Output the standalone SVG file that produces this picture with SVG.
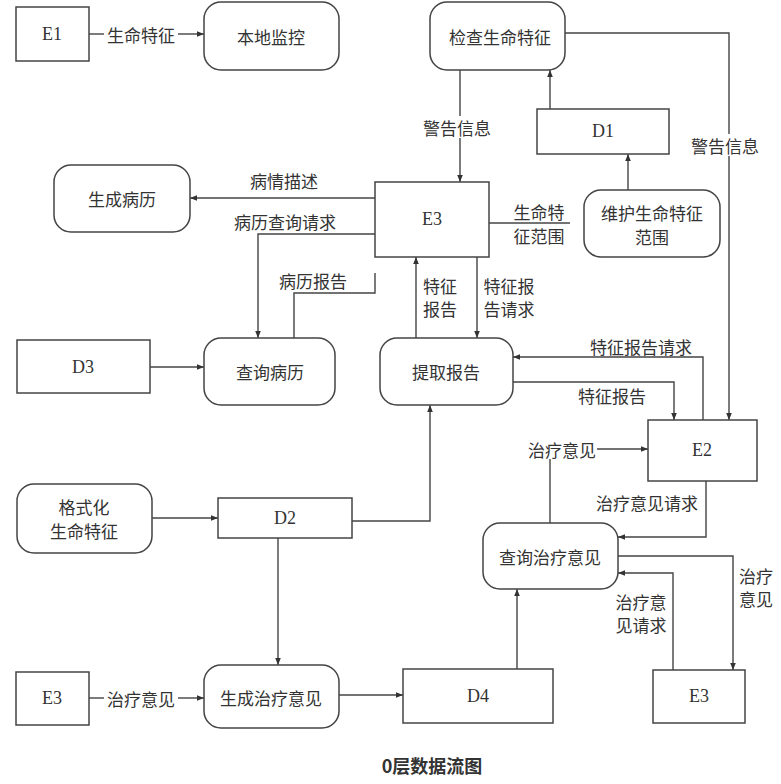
<svg xmlns="http://www.w3.org/2000/svg" width="781" height="784" viewBox="0 0 781 784">
<style>
.box{fill:#fff;stroke:#444;stroke-width:1.5}
.t{font-family:"Noto Sans CJK SC","Liberation Serif",serif;font-size:17px;fill:#333;text-anchor:middle;dominant-baseline:central}
.lat{font-family:"Liberation Serif",serif;font-size:18px;fill:#333;text-anchor:middle;dominant-baseline:central}
.c{fill:none;stroke:#444;stroke-width:1.4}
.a{marker-end:url(#arr)}
</style>
<defs>
<marker id="arr" viewBox="0 0 10 10" refX="10" refY="5" markerWidth="10" markerHeight="7" orient="auto" markerUnits="userSpaceOnUse"><path d="M0,1 L10,5 L0,9 z" fill="#333"/></marker>
</defs>
<rect width="781" height="784" fill="#fff"/>
<g id="connectors">
<path class="c" d="M89,34 H104"/><path class="c a" d="M178,34 H204"/>
<text class="t" x="141" y="34">生命特征</text>
<path class="c" d="M460,70 V116"/><path class="c a" d="M460,138 V182"/>
<text class="t" x="457" y="127">警告信息</text>
<path class="c a" d="M550,109 V70"/>
<path class="c" d="M565,33 H729 V134"/><path class="c a" d="M729,156 V420"/>
<text class="t" x="725" y="145">警告信息</text>
<path class="c a" d="M628,190 V154"/>
<path class="c a" d="M375,198 H190"/>
<text class="t" x="284" y="180">病情描述</text>
<path class="c a" d="M375,234 H258 V338"/>
<text class="t" x="285" y="221">病历查询请求</text>
<path class="c" d="M294,338 V293 H375 V273"/>
<text class="t" x="313" y="280">病历报告</text>
<path class="c" d="M489,223 H570"/>
<text class="t" x="539" y="211">生命特</text>
<text class="t" x="539" y="235">征范围</text>
<path class="c a" d="M416,338 V257"/>
<text class="t" x="440" y="285">特征</text>
<text class="t" x="440" y="308">报告</text>
<path class="c a" d="M477,257 V338"/>
<text class="t" x="509" y="285">特征报</text>
<text class="t" x="509" y="308">告请求</text>
<path class="c a" d="M703,420 V357 H513"/>
<text class="t" x="641" y="346">特征报告请求</text>
<path class="c a" d="M513,382 H674 V420"/>
<text class="t" x="612" y="395">特征报告</text>
<path class="c a" d="M150,367 H204"/>
<path class="c a" d="M152,518 H218"/>
<path class="c a" d="M352,521 H430 V405"/>
<path class="c a" d="M278,538 V665"/>
<path class="c" d="M89,698 H104"/><path class="c a" d="M178,698 H204"/>
<text class="t" x="141" y="698">治疗意见</text>
<path class="c a" d="M339,695 H403"/>
<path class="c a" d="M517,669 V589"/>
<path class="c" d="M550,523 V459"/><path class="c a" d="M597,449 H648"/>
<text class="t" x="562" y="449">治疗意见</text>
<path class="c a" d="M706,481 V537 H618"/>
<text class="t" x="647" y="502">治疗意见请求</text>
<path class="c a" d="M618,556 H733 V670"/>
<text class="t" x="756" y="575">治疗</text>
<text class="t" x="756" y="598">意见</text>
<path class="c a" d="M673,670 V573 H618"/>
<text class="t" x="641" y="601">治疗意</text>
<text class="t" x="641" y="624">见请求</text>
</g>
<g id="E1"><rect class="box" x="16" y="7" width="73" height="54"/><text class="lat" x="52" y="34">E1</text></g>
<g id="local-monitor"><rect class="box" x="204" y="2" width="135" height="68" rx="17"/><text class="t" x="271" y="36">本地监控</text></g>
<g id="check-vitals"><rect class="box" x="430" y="2" width="135" height="68" rx="17"/><text class="t" x="500" y="36">检查生命特征</text></g>
<g id="D1"><rect class="box" x="537" y="109" width="132" height="45"/><text class="lat" x="603" y="131">D1</text></g>
<g id="gen-record"><rect class="box" x="54" y="165" width="136" height="67" rx="17"/><text class="t" x="122" y="198">生成病历</text></g>
<g id="E3-top"><rect class="box" x="375" y="182" width="114" height="75"/><text class="lat" x="432" y="219">E3</text></g>
<g id="maintain-range"><rect class="box" x="584" y="190" width="136" height="67" rx="17"/><text class="t" x="652" y="212">维护生命特征</text><text class="t" x="652" y="236">范围</text></g>
<g id="D3"><rect class="box" x="17" y="340" width="133" height="53"/><text class="lat" x="83" y="367">D3</text></g>
<g id="query-record"><rect class="box" x="204" y="338" width="131" height="67" rx="17"/><text class="t" x="270" y="371">查询病历</text></g>
<g id="extract-report"><rect class="box" x="380" y="338" width="133" height="67" rx="17"/><text class="t" x="446" y="371">提取报告</text></g>
<g id="E2"><rect class="box" x="648" y="420" width="109" height="61"/><text class="lat" x="702" y="450">E2</text></g>
<g id="format-vitals"><rect class="box" x="17" y="484" width="135" height="69" rx="17"/><text class="t" x="84" y="506">格式化</text><text class="t" x="84" y="530">生命特征</text></g>
<g id="D2"><rect class="box" x="218" y="498" width="134" height="40"/><text class="lat" x="285" y="518">D2</text></g>
<g id="query-treatment"><rect class="box" x="483" y="523" width="135" height="66" rx="17"/><text class="t" x="550" y="556">查询治疗意见</text></g>
<g id="E3-bottom-left"><rect class="box" x="16" y="672" width="73" height="53"/><text class="lat" x="52" y="698">E3</text></g>
<g id="gen-treatment"><rect class="box" x="204" y="665" width="135" height="63" rx="17"/><text class="t" x="271" y="697">生成治疗意见</text></g>
<g id="D4"><rect class="box" x="403" y="669" width="150" height="54"/><text class="lat" x="478" y="696">D4</text></g>
<g id="E3-bottom-right"><rect class="box" x="653" y="670" width="92" height="53"/><text class="lat" x="699" y="696">E3</text></g>
<text class="t" x="432" y="765" style="font-size:18px;font-weight:bold">0层数据流图</text>
</svg>
